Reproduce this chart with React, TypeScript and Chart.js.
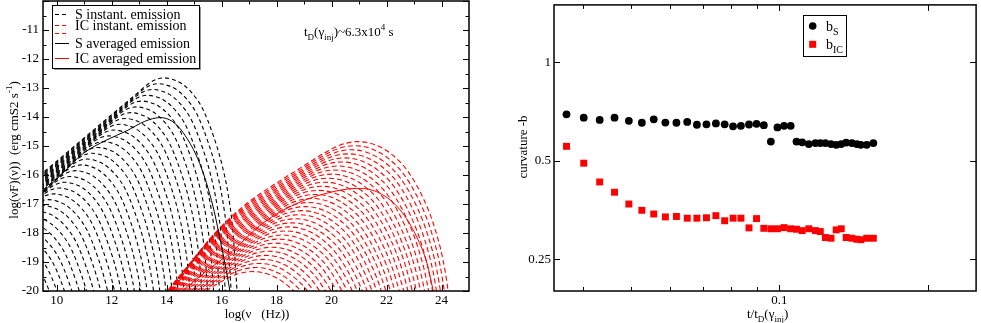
import React, { useEffect, useRef } from 'react';
import { Chart, registerables } from 'chart.js';
Chart.register(...registerables);

const FONT = "'Liberation Serif', 'Times New Roman', serif";

// ---------- Left panel: SED ----------
// peak positions (log nu, log nuFnu) of the instantaneous synchrotron spectra
const S_PEAK_LOGNU = [13.90, 13.70, 13.50, 13.30, 13.10, 12.90, 12.70, 12.50, 12.30, 12.10, 11.90, 11.70, 11.50, 11.30, 11.10, 10.90, 10.70, 10.50, 10.30, 10.10, 9.90, 9.70, 9.50, 9.30, 9.10, 8.90, 8.70, 8.50, 8.30, 8.10, 7.90, 7.70, 7.50];
const S_PEAK_LOGF = [-12.65, -12.85, -13.05, -13.25, -13.45, -13.65, -13.85, -14.05, -14.25, -14.45, -14.65, -14.85, -15.05, -15.25, -15.45, -15.65, -15.85, -16.05, -16.25, -16.45, -16.65, -16.85, -17.05, -17.25, -17.45, -17.65, -17.85, -18.05, -18.25, -18.45, -18.65, -18.85, -19.05];
// spectral shape (offsets from its peak)
const S_SHAPE_DX = [-6.5, -5.5, -4.5, -3.5, -2.5, -1.6, -1.0, -0.6, -0.3, 0, 0.3, 0.6, 1.0, 1.4, 1.8, 2.1, 2.33, 2.5, 2.66, 2.8, 3.0];
const S_SHAPE_DY = [-4.95, -4.15, -3.35, -2.55, -1.75, -1.03, -0.55, -0.23, -0.06, 0, -0.05, -0.17, -0.5, -1.05, -2.0, -2.95, -3.98, -5.2, -7.35, -9.6, -13.0];

// peak positions of the instantaneous inverse-Compton spectra
const IC_PEAK_LOGNU = [20.96, 20.84, 20.72, 20.60, 20.48, 20.36, 20.24, 20.12, 20.00, 19.88, 19.76, 19.64, 19.52, 19.40, 19.28, 19.16, 19.04, 18.92, 18.80, 18.68, 18.56, 18.44, 18.32, 18.20, 18.08, 17.96, 17.84, 17.72, 17.60, 17.48, 17.36, 17.24, 17.12];
const IC_PEAK_LOGF = [-14.85, -14.99, -15.13, -15.27, -15.41, -15.55, -15.69, -15.83, -15.97, -16.11, -16.25, -16.39, -16.53, -16.67, -16.81, -16.95, -17.09, -17.23, -17.37, -17.51, -17.65, -17.79, -17.93, -18.07, -18.21, -18.35, -18.49, -18.63, -18.77, -18.91, -19.05, -19.19, -19.33];
// shape (offsets from its peak)
const IC_SHAPE_DX = [-7.4, -6.9, -6.5, -6.0, -5.1, -4.0, -3.0, -2.0, -1.2, -0.6, 0, 0.6, 1.2, 1.8, 2.4, 2.8, 3.1, 3.28, 3.45];
const IC_SHAPE_DY = [-6.3, -5.4, -4.8, -4.1, -3.05, -2.1, -1.45, -0.85, -0.38, -0.1, 0, -0.1, -0.42, -1.0, -2.0, -3.0, -4.1, -5.15, -6.6];

const S_AVG_LOGNU = [9.5, 10.2, 10.96, 11.8, 12.56, 13.2, 13.76, 14.2, 14.6, 15.2, 15.69, 16.0, 16.3, 16.45];
const S_AVG_LOGF = [-16.6, -15.95, -15.26, -14.8, -14.47, -14.15, -14.02, -14.15, -14.54, -15.6, -17.1, -18.5, -20.0, -21.0];
const IC_AVG_LOGNU = [14.3, 14.6, 15.4, 16.3, 17.5, 18.74, 19.94, 20.96, 21.76, 22.49, 23.1, 23.47, 23.7, 23.85];
const IC_AVG_LOGF = [-20.3, -20.0, -19.35, -18.7, -17.66, -16.98, -16.6, -16.46, -16.63, -17.2, -18.14, -19.04, -20.0, -20.6];

const SED_X_MAJOR = [10, 12, 14, 16, 18, 20, 22, 24];
const SED_X_MINOR = [11, 13, 15, 17, 19, 21, 23];
const SED_Y_MAJOR = [-20, -19, -18, -17, -16, -15, -14, -13, -12, -11, -10];
const SED_Y_LABELS = [-20, -19, -18, -17, -16, -15, -14, -13, -12, -11];
const SED_Y_MINOR = [-19.5, -18.5, -17.5, -16.5, -15.5, -14.5, -13.5, -12.5, -11.5, -10.5];

// ---------- Right panel: curvature ----------
const T_OVER_TD = [0.0371, 0.0402, 0.0433, 0.0464, 0.0496, 0.0527, 0.0557, 0.0588, 0.0619, 0.0651, 0.0681, 0.0712, 0.0744, 0.0775, 0.0806, 0.0836, 0.0868, 0.0899, 0.0930, 0.0961, 0.0991, 0.1022, 0.1054, 0.1083, 0.1112, 0.1147, 0.1183, 0.1210, 0.1239, 0.1272, 0.1303, 0.1334, 0.1365, 0.1402, 0.1434, 0.1461, 0.1502, 0.1549];
const B_S = [0.694, 0.678, 0.667, 0.678, 0.663, 0.654, 0.670, 0.655, 0.654, 0.658, 0.645, 0.647, 0.651, 0.647, 0.638, 0.640, 0.646, 0.649, 0.643, 0.573, 0.633, 0.640, 0.640, 0.573, 0.570, 0.563, 0.567, 0.567, 0.567, 0.563, 0.560, 0.563, 0.569, 0.567, 0.563, 0.560, 0.560, 0.567];
const B_IC = [0.554, 0.492, 0.431, 0.401, 0.369, 0.353, 0.344, 0.337, 0.338, 0.334, 0.334, 0.335, 0.340, 0.328, 0.334, 0.334, 0.312, 0.333, 0.311, 0.310, 0.310, 0.3125, 0.310, 0.309, 0.306, 0.310, 0.306, 0.304, 0.2915, 0.290, 0.3076, 0.310, 0.2915, 0.290, 0.288, 0.287, 0.290, 0.290];

const CURV_X_MINOR = [0.04, 0.05, 0.06, 0.07, 0.08, 0.09];
const CURV_X_MAJOR = [0.1, 0.2];
const CURV_X_LABELS = ['0.1', ''];
const CURV_Y_MAJOR = [0.25, 0.5, 1];
const CURV_Y_LABELS = ['0.25', '0.5', '1'];

// approximate pixel scale of the SED plot area (used only to phase-align dash patterns)
const PX_PER_X = 426 / 15.5;
const PX_PER_Y = 290 / 10;

type Seg = { t: string; s?: 'sub' | 'sup' };

function segFont(size: number, s?: string) {
  return `${s ? Math.round(size * 0.72) : size}px ${FONT}`;
}
function richWidth(ctx: CanvasRenderingContext2D, segs: Seg[], size: number) {
  let w = 0;
  segs.forEach((g) => { ctx.font = segFont(size, g.s); w += ctx.measureText(g.t).width; });
  return w;
}
function drawRich(ctx: CanvasRenderingContext2D, segs: Seg[], x: number, y: number, size: number, align: 'left' | 'center' = 'left') {
  const w = richWidth(ctx, segs, size);
  let cx = align === 'center' ? x - w / 2 : x;
  ctx.textAlign = 'left';
  ctx.textBaseline = 'alphabetic';
  segs.forEach((g) => {
    ctx.font = segFont(size, g.s);
    const dy = g.s === 'sub' ? size * 0.32 : g.s === 'sup' ? -size * 0.45 : 0;
    ctx.fillText(g.t, cx, y + dy);
    cx += ctx.measureText(g.t).width;
  });
}
function line(ctx: CanvasRenderingContext2D, x1: number, y1: number, x2: number, y2: number) {
  ctx.beginPath(); ctx.moveTo(x1, y1); ctx.lineTo(x2, y2); ctx.stroke();
}

// dash offset so that the dash pattern starts exactly where the curve crosses a reference line
function dashPhase(pts: { x: number; y: number }[], crossed: (a: { x: number; y: number }, b: { x: number; y: number }) => number, period: number) {
  let L = 0;
  for (let k = 1; k < pts.length; k++) {
    const a = pts[k - 1], b = pts[k];
    const seg = Math.hypot((b.x - a.x) * PX_PER_X, (b.y - a.y) * PX_PER_Y);
    const f = crossed(a, b);
    if (f >= 0) { L += f * seg; break; }
    L += seg;
  }
  return (period - (L % period)) % period;
}

const fixedAxis = (size: number, isX: boolean) => ({
  display: true,
  grid: { display: false, drawTicks: false },
  border: { display: false },
  ticks: { display: false },
  afterFit: (s: any) => { if (isX) s.height = size; else s.width = size; },
});

function drawSedDecor(chart: any) {
  const ctx: CanvasRenderingContext2D = chart.ctx;
  const { left, right, top, bottom } = chart.chartArea;
  const xs = chart.scales.x, ys = chart.scales.y;
  ctx.save();
  ctx.strokeStyle = '#000';
  ctx.fillStyle = '#000';
  ctx.lineWidth = 1;
  SED_X_MAJOR.forEach((v) => { const p = Math.round(xs.getPixelForValue(v)) + 0.5; line(ctx, p, bottom, p, bottom - 6); line(ctx, p, top, p, top + 6); });
  SED_X_MINOR.forEach((v) => { const p = Math.round(xs.getPixelForValue(v)) + 0.5; line(ctx, p, bottom, p, bottom - 3.5); line(ctx, p, top, p, top + 3.5); });
  SED_Y_MAJOR.forEach((v) => { const p = Math.round(ys.getPixelForValue(v)) + 0.5; line(ctx, left, p, left + 6, p); line(ctx, right, p, right - 6, p); });
  SED_Y_MINOR.forEach((v) => { const p = Math.round(ys.getPixelForValue(v)) + 0.5; line(ctx, left, p, left + 3.5, p); line(ctx, right, p, right - 3.5, p); });
  ctx.lineWidth = 1.5;
  ctx.strokeRect(left, top, right - left, bottom - top);

  ctx.font = `13px ${FONT}`;
  ctx.textAlign = 'center'; ctx.textBaseline = 'alphabetic';
  SED_X_MAJOR.forEach((v) => ctx.fillText(String(v), xs.getPixelForValue(v), 304));
  ctx.textAlign = 'right'; ctx.textBaseline = 'middle';
  SED_Y_LABELS.forEach((v) => ctx.fillText(String(v), left - 4, ys.getPixelForValue(v)));

  // axis titles
  drawRich(ctx, [{ t: 'log(ν   (Hz))' }], 257, 318, 13, 'center');
  ctx.save();
  ctx.translate(18, 150);
  ctx.rotate(-Math.PI / 2);
  drawRich(ctx, [{ t: 'log(νF)(ν))  (erg cmS2 s' }, { t: '-1', s: 'sup' }, { t: ')' }], 0, 0, 13, 'center');
  ctx.restore();

  // annotation
  drawRich(ctx, [{ t: 't' }, { t: 'D', s: 'sub' }, { t: '(γ' }, { t: 'inj', s: 'sub' }, { t: ')~6.3x10' }, { t: '4', s: 'sup' }, { t: ' s' }], 304, 36, 13);

  // legend
  const bx = 52, by = 5, bw = 147, bh = 63;
  ctx.fillStyle = '#999';
  ctx.fillRect(bx + 2, by + 2, bw, bh);
  ctx.fillStyle = '#fff';
  ctx.fillRect(bx, by, bw, bh);
  ctx.lineWidth = 1;
  ctx.strokeStyle = '#000';
  ctx.strokeRect(bx + 0.5, by + 0.5, bw, bh);
  const sample = (y: number, color: string, dash: number[]) => {
    ctx.strokeStyle = color; ctx.setLineDash(dash); line(ctx, 55, y, 69, y); ctx.setLineDash([]);
  };
  sample(14.5, '#000', [4, 3]);
  sample(25.5, '#ff0000', [4, 3]);
  sample(33.5, '#ff0000', [4, 3]);
  sample(43.5, '#000', []);
  sample(58.5, '#ff0000', []);
  ctx.fillStyle = '#000';
  drawRich(ctx, [{ t: 'S instant. emission' }], 75, 19, 14);
  drawRich(ctx, [{ t: 'IC instant. emission' }], 75, 30, 14);
  drawRich(ctx, [{ t: 'S averaged emission' }], 75, 48, 14);
  drawRich(ctx, [{ t: 'IC averaged emission' }], 75, 63, 14);
  ctx.restore();
}

function drawCurvDecor(chart: any) {
  const ctx: CanvasRenderingContext2D = chart.ctx;
  const { left, right, top, bottom } = chart.chartArea;
  const xs = chart.scales.x, ys = chart.scales.y;
  ctx.save();
  ctx.strokeStyle = '#000';
  ctx.fillStyle = '#000';
  ctx.lineWidth = 1;
  CURV_X_MAJOR.forEach((v) => { const p = Math.round(xs.getPixelForValue(v)) + 0.5; line(ctx, p, bottom, p, bottom - 6); line(ctx, p, top, p, top + 6); });
  CURV_X_MINOR.forEach((v) => { const p = Math.round(xs.getPixelForValue(v)) + 0.5; line(ctx, p, bottom, p, bottom - 4); line(ctx, p, top, p, top + 4); });
  CURV_Y_MAJOR.forEach((v) => { const p = Math.round(ys.getPixelForValue(v)) + 0.5; line(ctx, left, p, left + 6, p); line(ctx, right, p, right - 6, p); });
  ctx.lineWidth = 1.5;
  ctx.strokeRect(left, top, right - left, bottom - top);

  ctx.font = `13px ${FONT}`;
  ctx.textAlign = 'center'; ctx.textBaseline = 'alphabetic';
  CURV_X_MAJOR.forEach((v, i) => ctx.fillText(CURV_X_LABELS[i], xs.getPixelForValue(v), 304));
  ctx.textAlign = 'right'; ctx.textBaseline = 'middle';
  CURV_Y_MAJOR.forEach((v, i) => ctx.fillText(CURV_Y_LABELS[i], left - 3, ys.getPixelForValue(v)));

  drawRich(ctx, [{ t: 't/t' }, { t: 'D', s: 'sub' }, { t: '(γ' }, { t: 'inj', s: 'sub' }, { t: ')' }], 257, 318, 13);
  ctx.save();
  ctx.translate(37, 147);
  ctx.rotate(-Math.PI / 2);
  drawRich(ctx, [{ t: 'curvature -b' }], 0, 0, 13, 'center');
  ctx.restore();

  // legend
  const bx = 313, by = 15, bw = 43, bh = 41;
  ctx.fillStyle = '#fff';
  ctx.fillRect(bx, by, bw, bh);
  ctx.lineWidth = 1;
  ctx.strokeRect(bx + 0.5, by + 0.5, bw, bh);
  ctx.fillStyle = '#000';
  ctx.beginPath(); ctx.arc(322.7, 26, 3.8, 0, Math.PI * 2); ctx.fill();
  ctx.fillStyle = '#ff0000';
  ctx.fillRect(319.2, 40.8, 7, 7);
  ctx.fillStyle = '#000';
  drawRich(ctx, [{ t: 'b' }, { t: 'S', s: 'sub' }], 336, 31, 14);
  drawRich(ctx, [{ t: 'b' }, { t: 'IC', s: 'sub' }], 336, 49, 14);
  ctx.restore();
}

function SedChart() {
  const ref = useRef<HTMLCanvasElement>(null);
  useEffect(() => {
    const S_PERIOD = 7, IC_PERIOD = 8;
    const sInst = S_PEAK_LOGNU.map((xp, i) => {
      const pts = S_SHAPE_DX.map((dx, k) => ({ x: xp + dx, y: S_PEAK_LOGF[i] + S_SHAPE_DY[k] }));
      const off = dashPhase(pts, (a, b) => (a.x < 9.5 && b.x >= 9.5 ? (9.5 - a.x) / (b.x - a.x) : -1), S_PERIOD);
      return {
        data: pts, borderColor: '#000', borderWidth: 1.1, borderDash: [4, 3], borderDashOffset: off,
        pointRadius: 0, cubicInterpolationMode: 'monotone' as const, order: 3,
      };
    });
    const icInst = IC_PEAK_LOGNU.map((xp, i) => {
      const pts = IC_SHAPE_DX.map((dx, k) => ({ x: xp + dx, y: IC_PEAK_LOGF[i] + IC_SHAPE_DY[k] }));
      const off = dashPhase(pts, (a, b) => (a.y < -20 && b.y >= -20 ? (-20 - a.y) / (b.y - a.y) : -1), IC_PERIOD);
      return {
        data: pts, borderColor: '#ff0000', borderWidth: 1.1, borderDash: [5, 3], borderDashOffset: off,
        pointRadius: 0, cubicInterpolationMode: 'monotone' as const, order: 2,
      };
    });
    const sAvg = {
      data: S_AVG_LOGNU.map((x, i) => ({ x, y: S_AVG_LOGF[i] })),
      borderColor: '#000', borderWidth: 1, pointRadius: 0, cubicInterpolationMode: 'monotone' as const, order: 1,
    };
    const icAvg = {
      data: IC_AVG_LOGNU.map((x, i) => ({ x, y: IC_AVG_LOGF[i] })),
      borderColor: '#ff0000', borderWidth: 1, pointRadius: 0, cubicInterpolationMode: 'monotone' as const, order: 0,
    };
    const chart = new Chart(ref.current!, {
      type: 'line',
      data: { datasets: [...sInst, ...icInst, sAvg, icAvg] as any },
      options: {
        responsive: false,
        animation: false,
        events: [],
        layout: { padding: { left: 0, right: 21, top: 1, bottom: 0 } },
        plugins: { legend: { display: false }, tooltip: { enabled: false } },
        scales: {
          x: { type: 'linear', min: 9.5, max: 25, ...fixedAxis(32, true) } as any,
          y: { type: 'linear', min: -20, max: -10, ...fixedAxis(43, false) } as any,
        },
      },
      plugins: [{ id: 'sedDecor', afterDraw: drawSedDecor }],
    });
    return () => chart.destroy();
  }, []);
  return <canvas ref={ref} width={490} height={323} style={{ position: 'absolute', left: 0, top: 0 }} />;
}

function CurvChart() {
  const ref = useRef<HTMLCanvasElement>(null);
  useEffect(() => {
    const chart = new Chart(ref.current!, {
      type: 'scatter',
      data: {
        datasets: [
          { data: T_OVER_TD.map((x, i) => ({ x, y: B_S[i] })), pointStyle: 'circle', pointRadius: 3.9, backgroundColor: '#000', borderWidth: 0 },
          { data: T_OVER_TD.map((x, i) => ({ x, y: B_IC[i] })), pointStyle: 'rect', pointRadius: 4.9, backgroundColor: '#ff0000', borderWidth: 0 },
        ] as any,
      },
      options: {
        responsive: false,
        animation: false,
        events: [],
        layout: { padding: { left: 0, right: 1, top: 1, bottom: 0 } },
        plugins: { legend: { display: false }, tooltip: { enabled: false } },
        scales: {
          x: { type: 'logarithmic', min: 0.035, max: 0.25, ...fixedAxis(32, true) } as any,
          y: { type: 'logarithmic', min: 0.2, max: 1.5, ...fixedAxis(64, false) } as any,
        },
      },
      plugins: [{ id: 'curvDecor', afterDraw: drawCurvDecor }],
    });
    return () => chart.destroy();
  }, []);
  return <canvas ref={ref} width={491} height={323} style={{ position: 'absolute', left: 490, top: 0 }} />;
}

export default function App() {
  useEffect(() => { document.body.style.margin = '0'; }, []);
  return (
    <div style={{ position: 'relative', width: 981, height: 323, background: '#fff', overflow: 'hidden' }}>
      <SedChart />
      <CurvChart />
    </div>
  );
}
